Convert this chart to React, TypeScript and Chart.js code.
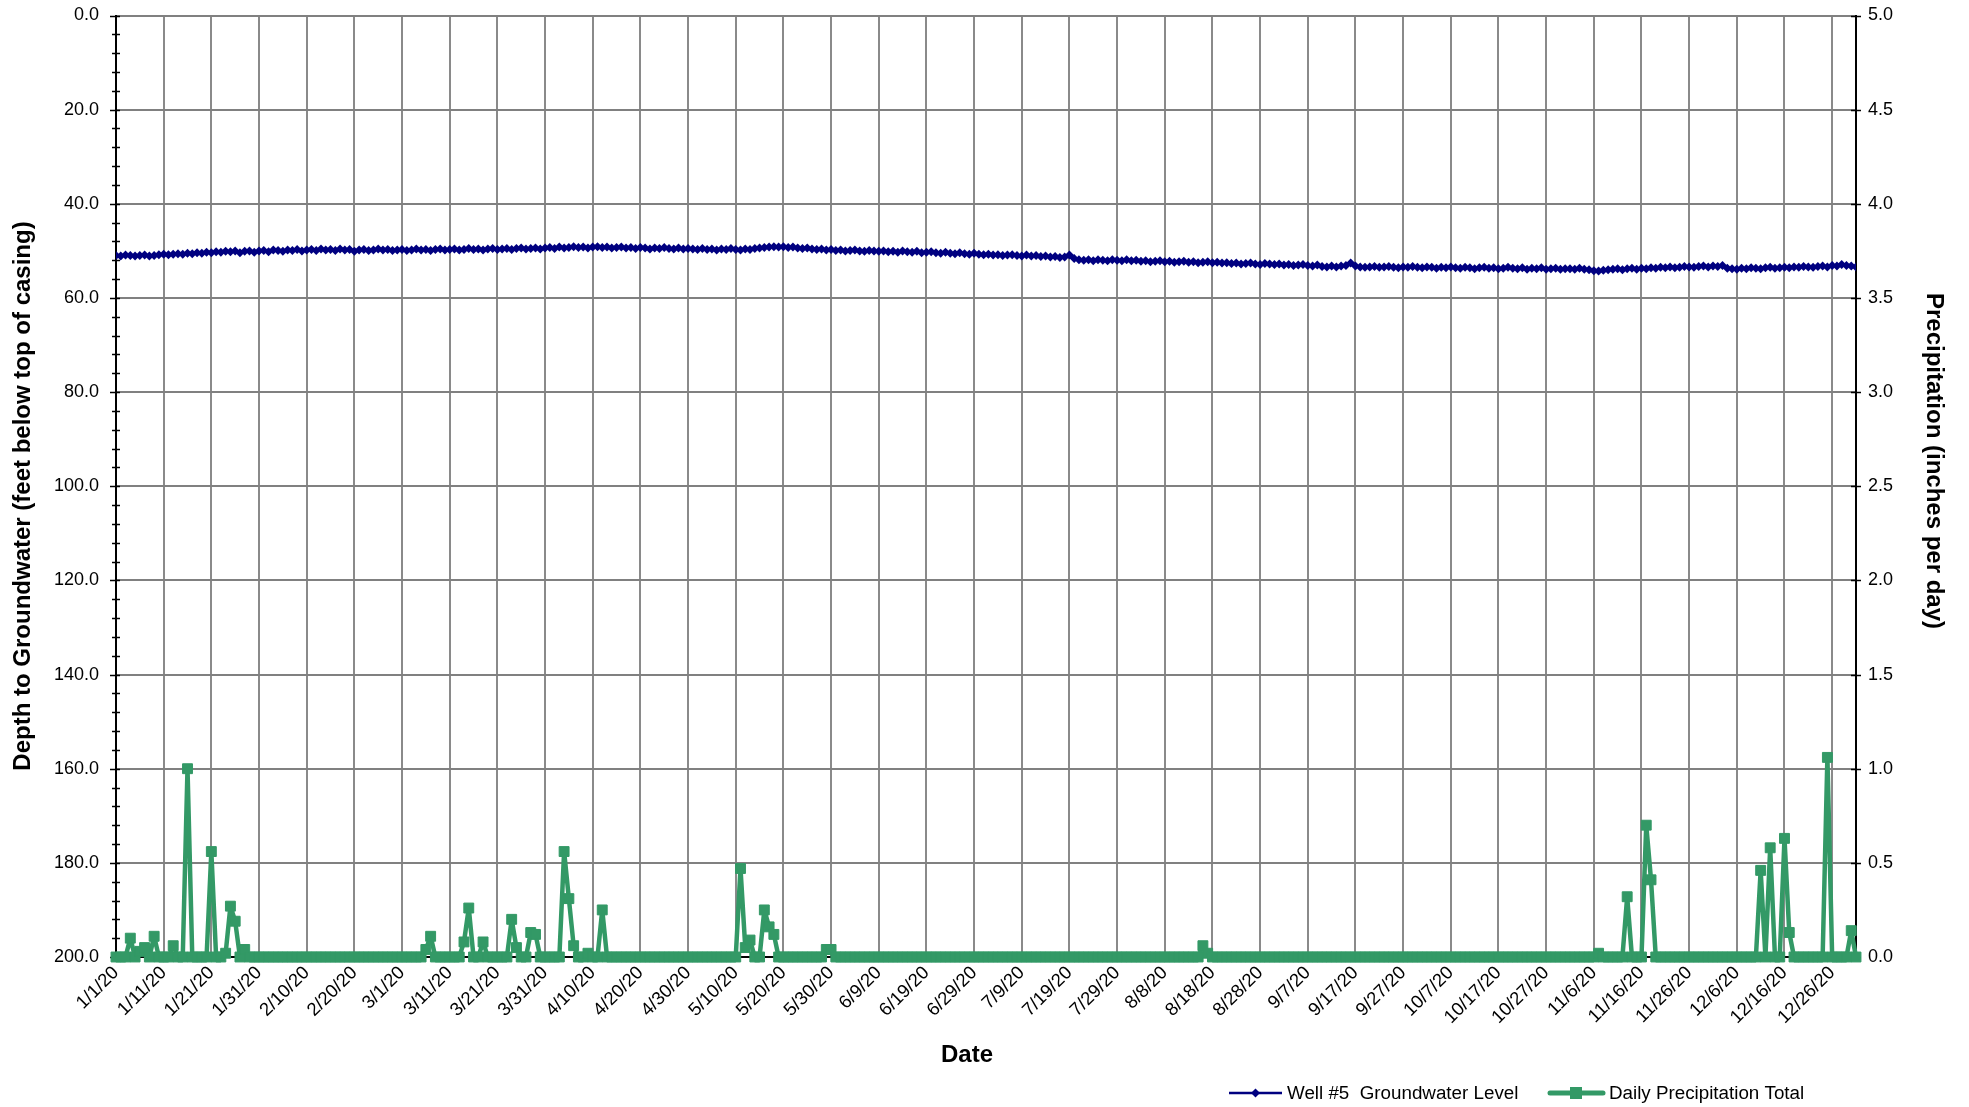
import React, { useEffect, useRef } from 'react';
import { Chart, registerables } from 'chart.js';

Chart.register(...registerables);

// ---------- DATA ----------
const xTickLabels = [
  '1/1/20', '1/11/20', '1/21/20', '1/31/20', '2/10/20', '2/20/20', '3/1/20', '3/11/20', '3/21/20', '3/31/20',
  '4/10/20', '4/20/20', '4/30/20', '5/10/20', '5/20/20', '5/30/20', '6/9/20', '6/19/20', '6/29/20', '7/9/20',
  '7/19/20', '7/29/20', '8/8/20', '8/18/20', '8/28/20', '9/7/20', '9/17/20', '9/27/20', '10/7/20', '10/17/20',
  '10/27/20', '11/6/20', '11/16/20', '11/26/20', '12/6/20', '12/16/20', '12/26/20',
];

// Depth to groundwater (ft below top of casing), one value per day of 2020
const gwJan = [51.0, 51.1, 50.9, 51.0, 51.1, 51.0, 50.9, 51.1, 51.0, 50.8, 50.7, 50.8, 50.7, 50.6, 50.7, 50.5, 50.6, 50.4, 50.5, 50.3, 50.4, 50.2, 50.3, 50.1, 50.2, 50.0, 50.4, 50.1, 50.0, 50.3, 50.0];
const gwFeb = [49.9, 50.2, 49.8, 49.9, 50.1, 49.8, 49.9, 49.7, 50.0, 49.8, 49.7, 49.9, 49.6, 49.8, 49.7, 49.9, 49.6, 49.8, 49.7, 50.1, 49.8, 49.7, 49.9, 49.8, 49.6, 49.8, 49.7, 49.9, 49.8];
const gwMar = [49.7, 49.9, 49.8, 49.6, 49.8, 49.7, 49.9, 49.7, 49.6, 49.8, 49.7, 49.6, 49.8, 49.7, 49.5, 49.7, 49.6, 49.8, 49.6, 49.5, 49.7, 49.6, 49.5, 49.7, 49.5, 49.4, 49.6, 49.5, 49.4, 49.6, 49.4];
const gwApr = [49.3, 49.5, 49.2, 49.4, 49.3, 49.1, 49.3, 49.2, 49.4, 49.2, 49.1, 49.3, 49.2, 49.4, 49.3, 49.2, 49.4, 49.3, 49.5, 49.3, 49.4, 49.6, 49.4, 49.5, 49.3, 49.5, 49.6, 49.4, 49.6, 49.5];
const gwMay = [49.6, 49.7, 49.5, 49.7, 49.6, 49.8, 49.6, 49.7, 49.5, 49.7, 49.8, 49.6, 49.7, 49.5, 49.4, 49.3, 49.2, 49.1, 49.2, 49.1, 49.3, 49.2, 49.4, 49.5, 49.4, 49.6, 49.7, 49.6, 49.8, 49.7, 49.9];
const gwJun = [49.8, 50.0, 49.9, 49.8, 50.0, 50.1, 49.9, 50.0, 50.1, 50.0, 50.2, 50.1, 50.3, 50.0, 50.2, 50.3, 50.1, 50.4, 50.3, 50.2, 50.4, 50.5, 50.3, 50.5, 50.6, 50.4, 50.6, 50.7, 50.5, 50.7];
const gwJul = [50.8, 50.7, 50.9, 50.8, 51.0, 50.9, 50.8, 51.0, 51.1, 50.9, 51.1, 51.0, 51.2, 51.1, 51.3, 51.2, 51.4, 51.3, 50.9, 51.6, 51.9, 52.0, 51.9, 52.1, 51.9, 52.0, 52.1, 51.9, 52.0, 52.1, 51.9];
const gwAug = [52.1, 52.0, 52.2, 52.1, 52.3, 52.2, 52.1, 52.3, 52.2, 52.4, 52.3, 52.2, 52.4, 52.3, 52.5, 52.4, 52.3, 52.5, 52.4, 52.6, 52.5, 52.7, 52.6, 52.8, 52.7, 52.6, 52.8, 52.9, 52.7, 52.8, 52.9];
const gwSep = [52.8, 53.0, 52.9, 53.1, 53.0, 52.9, 53.1, 53.2, 53.0, 53.3, 53.4, 53.2, 53.4, 53.2, 53.1, 52.6, 53.2, 53.4, 53.5, 53.4, 53.3, 53.5, 53.4, 53.3, 53.5, 53.6, 53.4, 53.5, 53.3, 53.5];
const gwOct = [53.6, 53.4, 53.5, 53.7, 53.5, 53.6, 53.4, 53.6, 53.7, 53.5, 53.6, 53.8, 53.6, 53.5, 53.7, 53.6, 53.8, 53.7, 53.5, 53.7, 53.8, 53.6, 53.9, 53.7, 53.8, 53.6, 53.9, 53.8, 53.7, 53.9, 53.8];
const gwNov = [53.8, 53.9, 53.7, 53.9, 54.0, 54.2, 54.3, 54.1, 54.0, 53.9, 53.8, 54.0, 53.8, 53.7, 53.9, 53.7, 53.8, 53.6, 53.7, 53.5, 53.6, 53.4, 53.6, 53.5, 53.3, 53.4, 53.5, 53.3, 53.2, 53.4];
const gwDec = [53.2, 53.3, 53.1, 53.7, 53.8, 53.9, 53.7, 53.8, 53.6, 53.7, 53.8, 53.6, 53.5, 53.7, 53.6, 53.5, 53.6, 53.4, 53.5, 53.3, 53.4, 53.5, 53.3, 53.2, 53.4, 53.1, 53.2, 52.9, 53.1, 53.2, 53.4];

// Daily precipitation total (inches), one value per day of 2020
const prJan = [0, 0, 0, 0.10, 0, 0.03, 0.05, 0, 0.11, 0, 0, 0, 0.06, 0, 0, 1.00, 0, 0, 0, 0, 0.56, 0, 0, 0.02, 0.27, 0.19, 0, 0.04, 0, 0, 0];
const prFeb = [0, 0, 0, 0, 0, 0, 0, 0, 0, 0, 0, 0, 0, 0, 0, 0, 0, 0, 0, 0, 0, 0, 0, 0, 0, 0, 0, 0, 0];
const prMar = [0, 0, 0, 0, 0, 0.04, 0.11, 0, 0, 0, 0, 0, 0, 0.08, 0.26, 0, 0, 0.08, 0, 0, 0, 0, 0, 0.20, 0.05, 0, 0, 0.13, 0.12, 0, 0];
const prApr = [0, 0, 0, 0.56, 0.31, 0.06, 0, 0, 0.02, 0, 0, 0.25, 0, 0, 0, 0, 0, 0, 0, 0, 0, 0, 0, 0, 0, 0, 0, 0, 0, 0];
const prMay = [0, 0, 0, 0, 0, 0, 0, 0, 0, 0, 0.47, 0.05, 0.09, 0, 0, 0.25, 0.16, 0.12, 0, 0, 0, 0, 0, 0, 0, 0, 0, 0, 0.04, 0.04, 0];
const prJun = [0, 0, 0, 0, 0, 0, 0, 0, 0, 0, 0, 0, 0, 0, 0, 0, 0, 0, 0, 0, 0, 0, 0, 0, 0, 0, 0, 0, 0, 0];
const prJul = [0, 0, 0, 0, 0, 0, 0, 0, 0, 0, 0, 0, 0, 0, 0, 0, 0, 0, 0, 0, 0, 0, 0, 0, 0, 0, 0, 0, 0, 0, 0];
const prAug = [0, 0, 0, 0, 0, 0, 0, 0, 0, 0, 0, 0, 0, 0, 0, 0.06, 0.02, 0, 0, 0, 0, 0, 0, 0, 0, 0, 0, 0, 0, 0, 0];
const prSep = [0, 0, 0, 0, 0, 0, 0, 0, 0, 0, 0, 0, 0, 0, 0, 0, 0, 0, 0, 0, 0, 0, 0, 0, 0, 0, 0, 0, 0, 0];
const prOct = [0, 0, 0, 0, 0, 0, 0, 0, 0, 0, 0, 0, 0, 0, 0, 0, 0, 0, 0, 0, 0, 0, 0, 0, 0, 0, 0, 0, 0, 0, 0];
const prNov = [0, 0, 0, 0, 0, 0, 0.02, 0, 0, 0, 0, 0, 0.32, 0, 0, 0, 0.70, 0.41, 0, 0, 0, 0, 0, 0, 0, 0, 0, 0, 0, 0];
const prDec = [0, 0, 0, 0, 0, 0, 0, 0, 0, 0, 0.46, 0, 0.58, 0, 0, 0.63, 0.13, 0, 0, 0, 0, 0, 0, 0, 1.06, 0, 0, 0, 0, 0.14, 0];

const groundwater = [...gwJan, ...gwFeb, ...gwMar, ...gwApr, ...gwMay, ...gwJun, ...gwJul, ...gwAug, ...gwSep, ...gwOct, ...gwNov, ...gwDec];
const precipitation = [...prJan, ...prFeb, ...prMar, ...prApr, ...prMay, ...prJun, ...prJul, ...prAug, ...prSep, ...prOct, ...prNov, ...prDec];

const seriesNames = ['Well #5  Groundwater Level', 'Daily Precipitation Total'];
const axisTitles = {
  left: 'Depth to Groundwater (feet below top of casing)',
  right: 'Precipitation (inches per day)',
  bottom: 'Date',
};

// ---------- STYLE / LAYOUT ----------
const W = 1969;
const H = 1107;
const PLOT_LEFT = 116;
const PLOT_RIGHT = 1856;
const PLOT_TOP = 15.5;
const PLOT_BOTTOM = 957;
const FONT = "'Liberation Sans', Arial, Helvetica, sans-serif";
const NAVY = '#000080';
const GREEN = '#339966';

const decorPlugin = {
  id: 'decor',
  beforeDatasetsDraw(chart: any) {
    const { ctx, chartArea } = chart;
    const y = chart.scales.y;
    const y2 = chart.scales.y2;
    ctx.save();
    ctx.strokeStyle = '#000';
    ctx.lineWidth = 1.5;
    for (let v = 0; v <= 200; v += 4) {
      const py = Math.round(y.getPixelForValue(v)) + 0.5;
      const major = v % 20 === 0;
      ctx.beginPath();
      ctx.moveTo(chartArea.left - (major ? 6 : 4), py);
      ctx.lineTo(chartArea.left + 4, py);
      ctx.stroke();
    }
    for (let i = 0; i <= 10; i++) {
      const py = Math.round(y2.getPixelForValue(i * 0.5)) + 0.5;
      ctx.beginPath();
      ctx.moveTo(chartArea.right - 5, py);
      ctx.lineTo(chartArea.right + 5, py);
      ctx.stroke();
    }
    ctx.restore();
  },
  afterDraw(chart: any) {
    const { ctx } = chart;
    ctx.save();
    ctx.fillStyle = '#000';
    ctx.textAlign = 'center';
    ctx.textBaseline = 'middle';
    ctx.font = `bold 24px ${FONT}`;
    ctx.save();
    ctx.translate(23, 496);
    ctx.rotate(-Math.PI / 2);
    ctx.fillText(axisTitles.left, 0, 0);
    ctx.restore();
    ctx.save();
    ctx.translate(1934, 461);
    ctx.rotate(Math.PI / 2);
    ctx.fillText(axisTitles.right, 0, 0);
    ctx.restore();
    ctx.fillText(axisTitles.bottom, 967, 1055);

    // legend
    const ly = 1093;
    ctx.strokeStyle = NAVY;
    ctx.lineWidth = 2.5;
    ctx.beginPath();
    ctx.moveTo(1229, ly);
    ctx.lineTo(1282, ly);
    ctx.stroke();
    ctx.fillStyle = NAVY;
    ctx.beginPath();
    ctx.moveTo(1255.5, ly - 4.5);
    ctx.lineTo(1260, ly);
    ctx.lineTo(1255.5, ly + 4.5);
    ctx.lineTo(1251, ly);
    ctx.closePath();
    ctx.fill();

    ctx.strokeStyle = GREEN;
    ctx.lineWidth = 5;
    ctx.lineCap = 'round';
    ctx.beginPath();
    ctx.moveTo(1550, ly);
    ctx.lineTo(1603, ly);
    ctx.stroke();
    ctx.fillStyle = GREEN;
    ctx.fillRect(1570, ly - 6, 12, 12);

    ctx.fillStyle = '#000';
    ctx.textAlign = 'left';
    ctx.font = `18.8px ${FONT}`;
    ctx.fillText(seriesNames[0], 1287, ly + 1);
    ctx.fillText(seriesNames[1], 1609, ly + 1);
    ctx.restore();
  },
};

export default function App() {
  const canvasRef = useRef<HTMLCanvasElement | null>(null);

  useEffect(() => {
    const canvas = canvasRef.current;
    if (!canvas) return;
    const tickFont = { family: FONT, size: 18 };

    const chart = new Chart(canvas, {
      type: 'line',
      data: {
        datasets: [
          {
            label: seriesNames[0],
            data: groundwater.map((v, i) => ({ x: i, y: v })),
            yAxisID: 'y',
            borderColor: NAVY,
            backgroundColor: NAVY,
            borderWidth: 3,
            borderJoinStyle: 'round',
            pointStyle: 'rectRot',
            pointRadius: 4.5,
            pointBorderWidth: 0,
            pointBackgroundColor: NAVY,
            tension: 0,
          },
          {
            label: seriesNames[1],
            data: precipitation.map((v, i) => ({ x: i, y: v })),
            yAxisID: 'y2',
            borderColor: GREEN,
            backgroundColor: GREEN,
            borderWidth: 4.5,
            borderJoinStyle: 'round',
            pointStyle: 'rect',
            pointRadius: 7,
            pointBorderWidth: 1,
            pointBackgroundColor: GREEN,
            pointBorderColor: GREEN,
            tension: 0,
            clip: false,
          },
        ],
      },
      options: {
        responsive: false,
        animation: false,
        devicePixelRatio: 1,
        layout: { padding: { top: PLOT_TOP, left: 0, right: 0, bottom: 0 } },
        plugins: {
          legend: { display: false },
          tooltip: { enabled: false },
        },
        scales: {
          x: {
            type: 'linear',
            position: 'bottom',
            min: 0,
            max: 365,
            afterBuildTicks: (s: any) => {
              s.ticks = xTickLabels.map((_, i) => ({ value: i * 10 }));
            },
            afterFit: (s: any) => {
              s.height = H - PLOT_BOTTOM;
              s.paddingLeft = 0;
              s.paddingRight = 0;
            },
            ticks: {
              autoSkip: false,
              maxRotation: 45,
              minRotation: 45,
              padding: 5,
              color: '#000',
              font: { family: FONT, size: 18.5 },
              callback: (v: any) => xTickLabels[Math.round(Number(v) / 10)],
            },
            grid: { color: '#8a8a8a', lineWidth: 2, drawTicks: false },
            border: { display: true, color: '#000', width: 2 },
          },
          y: {
            position: 'left',
            reverse: true,
            min: 0,
            max: 200,
            afterFit: (s: any) => {
              s.width = PLOT_LEFT;
              s.paddingTop = 0;
              s.paddingBottom = 0;
            },
            ticks: {
              stepSize: 20,
              padding: 17,
              color: '#000',
              font: tickFont,
              callback: (v: any) => Number(v).toFixed(1),
            },
            grid: { color: '#808080', lineWidth: 2, drawTicks: false },
            border: { display: true, color: '#000', width: 2 },
          },
          y2: {
            position: 'right',
            min: 0,
            max: 5,
            afterFit: (s: any) => {
              s.width = W - PLOT_RIGHT;
              s.paddingTop = 0;
              s.paddingBottom = 0;
            },
            ticks: {
              stepSize: 0.5,
              padding: 12,
              color: '#000',
              font: tickFont,
              callback: (v: any) => Number(v).toFixed(1),
            },
            grid: { drawOnChartArea: false, drawTicks: false },
            border: { display: true, color: '#000', width: 2 },
          },
        },
      },
      plugins: [decorPlugin],
    } as any);

    return () => chart.destroy();
  }, []);

  return (
    <div style={{ position: 'fixed', left: 0, top: 0, width: W, height: H, background: '#fff' }}>
      <canvas ref={canvasRef} width={W} height={H} style={{ display: 'block', width: W, height: H }} />
    </div>
  );
}
